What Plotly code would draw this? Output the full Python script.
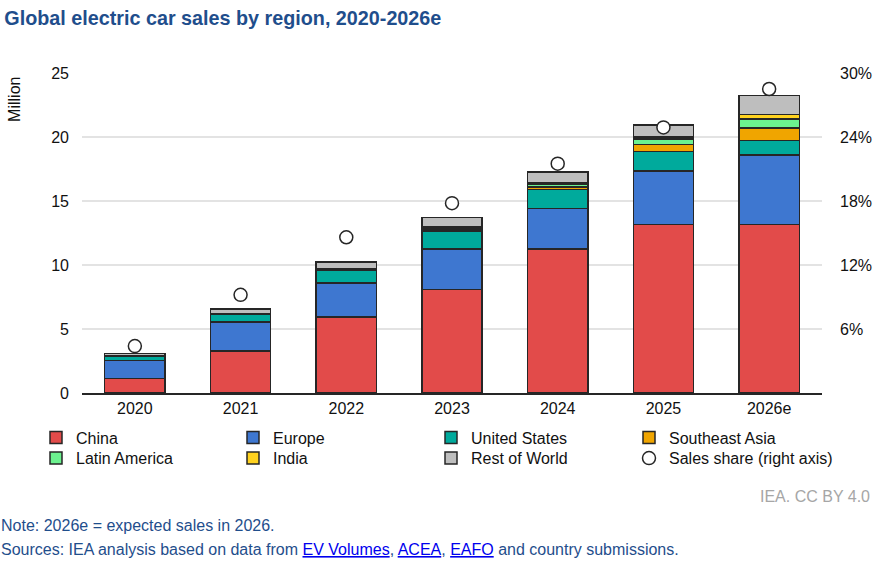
import plotly.graph_objects as go

years = ["2020", "2021", "2022", "2023", "2024", "2025", "2026e"]
china = [1.15, 3.3, 5.95, 8.1, 11.25, 13.15, 13.15]
europe = [1.4, 2.25, 2.65, 3.15, 3.15, 4.2, 5.45]
united_states = [0.3, 0.62, 0.99, 1.4, 1.5, 1.5, 1.12]
southeast_asia = [0.01, 0.02, 0.05, 0.17, 0.2, 0.58, 1.0]
latin_america = [0.01, 0.02, 0.04, 0.1, 0.17, 0.4, 0.68]
india = [0.01, 0.02, 0.05, 0.1, 0.15, 0.16, 0.35]
rest_of_world = [0.2, 0.35, 0.5, 0.7, 0.85, 0.95, 1.5]
sales_share = [4.4, 9.2, 14.6, 17.8, 21.5, 24.9, 28.5]

left_ticks = [0, 5, 10, 15, 20, 25]
right_ticks = [6, 12, 18, 24, 30]

series = [
    ("China", china, "#E24B4A"),
    ("Europe", europe, "#3E77D0"),
    ("United States", united_states, "#00AA9C"),
    ("Southeast Asia", southeast_asia, "#F0A500"),
    ("Latin America", latin_america, "#6CF28F"),
    ("India", india, "#FFD21F"),
    ("Rest of World", rest_of_world, "#BEBEBE"),
]

FONT = "Liberation Sans, Arial, sans-serif"

# legend slot for each entry: (column, row)
slots = [(0, 0), (1, 0), (2, 0), (3, 0), (0, 1), (1, 1), (2, 1), (3, 1)]
legend_names = ["legend"] + [f"legend{i}" for i in range(2, 9)]

fig = go.Figure()
for i, (name, vals, col) in enumerate(series):
    fig.add_trace(go.Bar(
        x=years, y=vals, name=name, legend=legend_names[i],
        marker=dict(color=col, line=dict(color="#262626", width=1.5)),
        width=0.57,
    ))

fig.add_trace(go.Scatter(
    x=years, y=sales_share, name="Sales share (right axis)", yaxis="y2",
    mode="markers", legend=legend_names[7],
    marker=dict(symbol="circle", size=13, color="white",
                line=dict(color="#262626", width=1.5)),
))

fig.update_layout(
    width=873, height=566,
    barmode="stack",
    plot_bgcolor="white", paper_bgcolor="white",
    font=dict(family=FONT, size=16, color="#111111"),
    margin=dict(l=82, r=51, t=73, b=173, autoexpand=False),
    title=dict(text="<b>Global electric car sales by region, 2020-2026e</b>",
               x=0.005, xref="container", xanchor="left",
               y=0.968, yref="container", yanchor="middle",
               font=dict(family=FONT, size=19.75, color="#1F4E8C")),
    xaxis=dict(showgrid=False, showline=True, linecolor="#262626", linewidth=2,
               ticks="", tickfont=dict(size=16)),
    yaxis=dict(range=[0, 25], tickvals=left_ticks, showgrid=True,
               gridcolor="#E3E3E3", gridwidth=1.5, zeroline=False,
               showline=False, ticks="", ticklabelstandoff=12,
               tickfont=dict(size=16)),
    yaxis2=dict(range=[0, 30], tickvals=right_ticks,
                ticktext=[f"{v}%" for v in right_ticks],
                overlaying="y", side="right", showgrid=False,
                zeroline=False, showline=False, ticks="",
                ticklabelstandoff=17, tickfont=dict(size=16)),
    showlegend=True,
    hovermode=False,
)

col_px = [36, 233, 431, 629]
row_px = [437.7, 458.2]
for lname, (c, r) in zip(legend_names, slots):
    fig.update_layout({lname: dict(
        x=(col_px[c] - 82) / 740, xanchor="left",
        y=(393 - row_px[r]) / 320, yanchor="middle",
        orientation="v", font=dict(size=16), itemwidth=30,
        bgcolor="rgba(0,0,0,0)", borderwidth=0,
    )})

annos = [
    dict(text="Million", x=-0.0905, y=0.916, textangle=-90,
         font=dict(size=16, color="#111111")),
    dict(text="IEA. CC BY 4.0", x=1.0676, y=-0.322, xanchor="right",
         font=dict(size=16, color="#A6A6A6")),
    dict(text="Note: 2026e = expected sales in 2026.", x=-0.112, y=-0.4125,
         xanchor="left", font=dict(size=16, color="#1F4E8C")),
    dict(text=("Sources: IEA analysis based on data from "
               "<span style='color:#0000EE'><u>EV Volumes</u></span>, "
               "<span style='color:#0000EE'><u>ACEA</u></span>, "
               "<span style='color:#0000EE'><u>EAFO</u></span> and country submissions."),
         x=-0.112, y=-0.4906, xanchor="left",
         font=dict(size=16, color="#1F4E8C")),
]
for a in annos:
    a.update(xref="paper", yref="paper", showarrow=False, yanchor="middle")
    a.setdefault("xanchor", "center")
    fig.add_annotation(**a)

fig.write_html("out.html", config={"displayModeBar": False},
               post_script="document.body.style.margin='0';document.body.style.overflow='hidden';")
